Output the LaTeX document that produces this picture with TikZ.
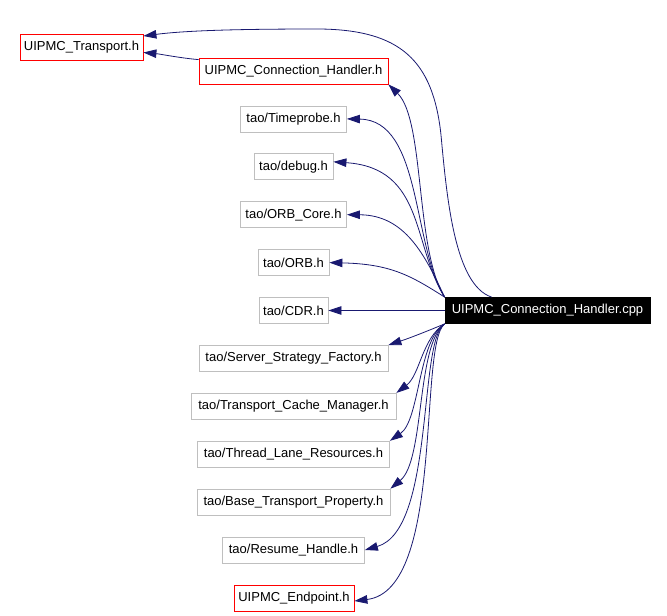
\documentclass[tikz,border=0pt]{standalone}
\usepackage{fontspec}
\setmainfont{Liberation Sans}
\usetikzlibrary{arrows.meta,positioning}
\definecolor{edgeblue}{RGB}{25,25,112}
\definecolor{boxgray}{RGB}{191,191,191}
\definecolor{boxred}{RGB}{255,0,0}

\begin{document}
\begin{tikzpicture}[x=1pt,y=-1pt,->,>={Triangle[length=13pt,width=8.5pt]},line width=0.8pt,node distance=47.9pt,
	file node/.style={rectangle,draw=boxgray,minimum height=26pt,inner sep=0pt,font=\fontsize{13}{15}\selectfont},
	red node/.style={file node,draw=boxred},
	root node/.style={file node,draw=black,fill=black,text=white},
	ctl/.style 2 args={to path={.. controls (#1) and (#2) .. (\tikztotarget)}}]
	\useasboundingbox (0,0) rectangle (667,616);

	\node[red node,minimum width=123pt] (1) at (81.5,47.5) {UIPMC\_Transport.h};
	\node[red node,minimum width=120pt] (13) at (294,598) {UIPMC\_Endpoint.h};
	\node[red node,minimum width=189pt] (2) at (293.5,71) {UIPMC\_Connection\_Handler.h};
	\node[file node,minimum width=106pt] (3) [below of=2] {tao/Timeprobe.h};
	\node[file node,minimum width=79pt] (4) [below of=3] {tao/debug.h};
	\node[file node,minimum width=106pt] (5) [below of=4] {tao/ORB\_Core.h};
	\node[file node,minimum width=71pt] (6) [below of=5] {tao/ORB.h};
	\node[file node,minimum width=69pt] (7) [below of=6] {tao/CDR.h};
	\node[file node,minimum width=189pt] (8) [below of=7] {tao/Server\_Strategy\_Factory.h};
	\node[file node,minimum width=205pt] (9) [below of=8] {tao/Transport\_Cache\_Manager.h};
	\node[file node,minimum width=192pt] (10) [below of=9] {tao/Thread\_Lane\_Resources.h};
	\node[file node,minimum width=193pt] (11) [below of=10] {tao/Base\_Transport\_Property.h};
	\node[file node,minimum width=142pt] (12) [below of=11] {tao/Resume\_Handle.h};
	\node[root node,minimum width=205pt] (14) [right of=7,node distance=254pt] {UIPMC\_Connection\_Handler.cpp};

	\path[every edge/.style={draw=edgeblue}]
		([xshift=47pt]14.north west) edge [to path={.. controls (455,285) and (447,200) .. (441,135) .. controls (433,60) and (400,30) .. (320,29) .. controls (250,29) and (190,30) .. (\tikztotarget)}] ([yshift=11.5pt]1.east)
		(14.north west) edge [ctl={415,250}{425,120}] (2.south east)
			edge [ctl={412,245}{422,120}] (3.east)
			edge [ctl={412,245}{425,168}] ([yshift=5pt]4.east)
			edge [ctl={425,255}{405,215}] (5.east)
			edge [ctl={410,275}{390,264}] (6.east)
		(14) edge (7)
		(14.south west) edge [ctl={430,330}{410,338}] (8.north east)
			edge [ctl={422,338}{420,375}] (9.north east)
			edge [ctl={418,340}{420,420}] (10.north east)
			edge [ctl={416,345}{425,460}] (11.north east)
			edge [ctl={418,340}{435,530}] (12.east)
			edge [ctl={418,345}{445,590}] ([yshift=-3pt]13.east)
		([yshift=-2pt]2.north west) edge [ctl={180,58}{160,54}] ([yshift=-5pt]1.east);
\end{tikzpicture}
\end{document}
